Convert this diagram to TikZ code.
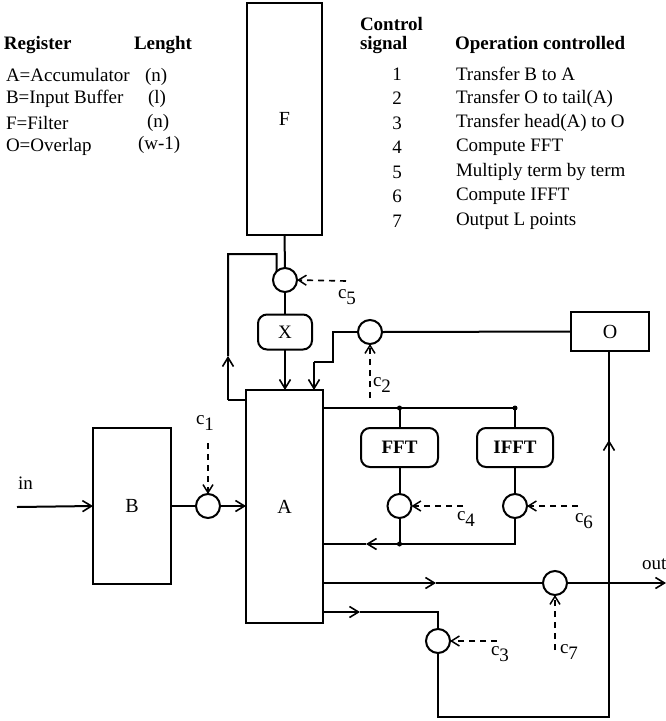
\documentclass[tikz,border=0pt]{standalone}
\usepackage{fontspec}
\setmainfont{Liberation Serif}
\usetikzlibrary{arrows.meta}
\begin{document}
\begin{tikzpicture}[x=1pt,y=-1pt,
  font=\fontsize{19}{21}\selectfont,
  line width=2pt,
  every node/.style={inner sep=0pt, outer sep=0pt},
  ar/.style={-{Straight Barb[length=9pt,width=11pt,line width=1.6pt]}},
  ctl/.style={dashed, line width=1.6pt, dash pattern=on 6pt off 5pt, -{Straight Barb[length=8pt,width=10pt,line width=1.5pt]}},
  reg/.style={draw, rectangle},
  fun/.style={draw, rectangle, rounded corners=9pt},
  sw/.style={draw, circle, minimum size=24pt},
  hd/.style={font=\fontsize{19}{21}\selectfont\bfseries, anchor=west},
  tx/.style={anchor=west},
  lbl/.style={anchor=west}]
\useasboundingbox (0,0) rectangle (666,721);
% tables
\node[hd] (h1) at (4,45) {Register};
\node[hd] (h2) at (134,45) {Lenght};
\node[tx] (r1) at (6,75) {A=Accumulator};
\node[tx] (r1l) at (145,77) {(n)};
\node[tx] (r2) at (6,99) {B=Input Buffer};
\node[tx] (r2l) at (148,99) {(l)};
\node[tx] (r3) at (6,123) {F=Filter};
\node[tx] (r3l) at (147,123) {(n)};
\node[tx] (r4) at (6,147) {O=Overlap};
\node[tx] (r4l) at (138,145) {(w-1)};
\node[hd] (h3) at (360,24) {Control};
\node[hd] (h4) at (360,45) {signal};
\node[hd] (h5) at (455,45) {Operation controlled};
\foreach \n/\t [count=\i] in {1/Transfer B to A,2/Transfer O to tail(A),3/Transfer head(A) to O,4/Compute FFT,5/Multiply term by term,6/Compute IFFT,7/Output L points}{
  \node (n\i) at (397,{49.5+24.5*\i}) {\n};
  \node[tx] (t\i) at (456,{49.5+24.5*\i}) {\t};
}
% registers
\node[reg, minimum width=75pt, minimum height=232pt] (F) at (284.5,119) {\fontsize{20}{22}\selectfont F};
\node[reg, minimum width=77pt, minimum height=233pt] (A) at (284.5,506.5) {\fontsize{20}{22}\selectfont A};
\node[reg, minimum width=78pt, minimum height=156pt] (B) at (132,506) {\fontsize{20}{22}\selectfont B};
\node[reg, minimum width=78pt, minimum height=39pt] (O) at (610,331.5) {\fontsize{20}{22}\selectfont O};
\node[fun, minimum width=54pt, minimum height=35pt] (X) at (285,332) {X};
\node[fun, minimum width=77pt, minimum height=39pt] (FFT) at (399.5,447.5) {\bfseries FFT};
\node[fun, minimum width=76pt, minimum height=39pt] (IFFT) at (515,447.5) {\bfseries IFFT};
% switches
\node[sw] (s5) at (285,280) {};
\node[sw] (s2) at (370,332) {};
\node[sw] (s1) at (208,506) {};
\node[sw] (s4) at (399.5,506) {};
\node[sw] (s6) at (515,506) {};
\node[sw] (s7) at (555,583) {};
\node[sw] (s3) at (438,641) {};
% coordinates
\coordinate (lp1) at (228,400);
\coordinate (lp2) at (228,356);
\coordinate (lp3) at (228,254);
\coordinate (lp4) at (276.5,254);
\coordinate (q1) at (333,332);
\coordinate (q2) at (333,362);
\coordinate (q3) at (314,362);
\coordinate (in) at (17,507);
\coordinate (b1) at (399.5,408);
\coordinate (b2) at (515,408);
\coordinate (ret1) at (515,544);
\coordinate (ret2) at (399.5,544);
\coordinate (ret3) at (366,544);
\coordinate (o1) at (436,583);
\coordinate (outc) at (666,583);
\coordinate (h1a) at (360,612);
\coordinate (h1b) at (438,612);
\coordinate (lo1) at (438,717);
\coordinate (lo2) at (609,717);
\coordinate (lo3) at (609,440);
\coordinate (c5s) at (346,281);
\coordinate (c2s) at (370,398);
\coordinate (c1s) at (208,443);
\coordinate (c4s) at (463,506);
\coordinate (c6s) at (578,506);
\coordinate (c7s) at (555,650);
\coordinate (c3s) at (497,641);
% connectors
\draw (F.south) -- (s5.north);
\draw (s5.south) -- (X.north);
\draw[ar] (X.south) -- (X.south |- A.north);
\draw (A.west |- lp1) -- (lp1);
\draw[ar] (lp1) -- (lp2);
\draw (lp2) -- (lp3) -- (lp4) -- (s5.north west);
\draw (s2.east) -- (O.west);
\draw (s2.west) -- (q1) -- (q2) -- (q3);
\draw[ar] (q3) -- (q3 |- A.north);
\draw[ar] (in) -- (B.west);
\draw (B.east |- s1) -- (s1.west);
\draw[ar] (s1.east) -- (A.west |- s1);
\draw (A.east |- b1) -- (b2);
\fill (b1) circle (2.5pt) (b2) circle (2.5pt) (ret2) circle (2.5pt);
\draw (b1) -- (FFT.north);
\draw (b2) -- (IFFT.north);
\draw (FFT.south) -- (s4.north);
\draw (IFFT.south) -- (s6.north);
\draw (s4.south) -- (ret2);
\draw (s6.south) -- (ret1) -- (ret2);
\draw[ar] (ret2) -- (ret3);
\draw (ret3) -- (A.east |- ret3);
\draw[ar] (A.east |- o1) -- (o1);
\draw (o1) -- (s7.west);
\draw[ar] (s7.east) -- (outc);
\draw[ar] (A.east |- h1a) -- (h1a);
\draw (h1a) -- (h1b) -- (s3.north);
\draw (s3.south) -- (lo1) -- (lo2) -- (lo3);
\draw[ar] (lo2) -- (lo3);
\draw (lo3) -- (O.south -| lo3);
% control signals
\draw[ctl] (c5s) -- (s5.east);
\draw[ctl] (c2s) -- (s2.south);
\draw[ctl] (c1s) -- (s1.north);
\draw[ctl] (c4s) -- (s4.east);
\draw[ctl] (c6s) -- (s6.east);
\draw[ctl] (c7s) -- (s7.south);
\draw[ctl] (c3s) -- (s3.east);
% labels
\node[lbl] (l5) at (338,297) {c\raisebox{-6pt}{5}};
\node[lbl] (l2) at (373,385) {c\raisebox{-6pt}{2}};
\node[lbl] (l1) at (196,423) {c\raisebox{-6pt}{1}};
\node[lbl] (l4) at (457,519) {c\raisebox{-6pt}{4}};
\node[lbl] (l6) at (575,521) {c\raisebox{-6pt}{6}};
\node[lbl] (l7) at (560,652) {c\raisebox{-6pt}{7}};
\node[lbl] (l3) at (491,654) {c\raisebox{-6pt}{3}};
\node[lbl] (lin) at (18,483) {in};
\node[lbl] (lout) at (642,564) {out};
\end{tikzpicture}
\end{document}
